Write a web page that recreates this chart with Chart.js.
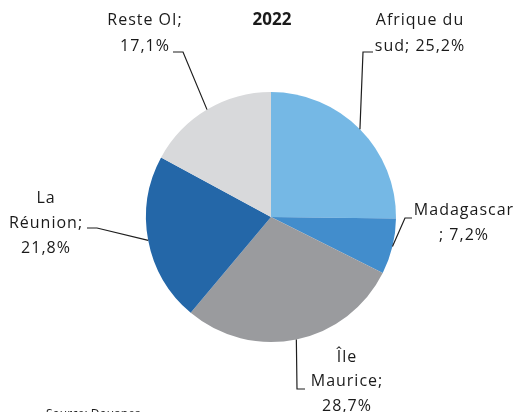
<!DOCTYPE html>
<html>
<head>
<meta charset="utf-8">
<script src="https://cdn.jsdelivr.net/npm/chart.js@4/dist/chart.umd.min.js"></script>
<style>
  html, body { margin: 0; padding: 0; background: #fff; }
  #wrap { width: 519px; height: 412px; position: relative; }
</style>
</head>
<body>
<div id="wrap"><canvas id="c" width="519" height="412"></canvas></div>
<script>
// Répartition des échanges par partenaire, 2022 (%)
const title = '2022';
const categories = ['Afrique du sud', 'Madagascar', 'Île Maurice', 'La Réunion', 'Reste OI'];
const shares = [25.2, 7.2, 28.7, 21.8, 17.1];
const colors = ['#75b8e5', '#428dcc', '#9a9b9e', '#2467a8', '#d8d9db'];
const source = 'Source: Douanes';

// Label placement: character indices where each label text wraps,
// text centre, leader elbow and end point.
const labelLayout = [
  { breaks: [10],    x: 420, y: [20, 46],       elbow: [363, 52], end: [373, 52] },
  { breaks: [10],    x: 464, y: [210, 235],     elbow: [405, 218], end: [412, 218] },
  { breaks: [3, 12], x: 347, y: [357, 381, 406], elbow: [297, 389], end: [305, 389] },
  { breaks: [2, 11], x: 46,  y: [198, 223, 248], elbow: [97, 228], end: [87, 228] },
  { breaks: [9],     x: 145, y: [20, 46],       elbow: [183, 52], end: [173, 52] }
];

function fmt(v) { return v.toFixed(1).replace('.', ',') + '%'; }

function wrap(text, breaks) {
  const out = [];
  let start = 0;
  breaks.forEach(b => { out.push(text.slice(start, b).trim()); start = b; });
  out.push(text.slice(start).trim());
  return out;
}

const labelsPlugin = {
  id: 'pieLabels',
  afterDraw(chart) {
    const ctx = chart.ctx;
    const arcs = chart.getDatasetMeta(0).data;
    ctx.save();
    // leader lines from each slice's mid-angle on the rim
    ctx.strokeStyle = '#1e1e1e';
    ctx.lineWidth = 1.2;
    arcs.forEach((arc, i) => {
      const L = labelLayout[i];
      const mid = (arc.startAngle + arc.endAngle) / 2;
      const px = arc.x + Math.cos(mid) * arc.outerRadius;
      const py = arc.y + Math.sin(mid) * arc.outerRadius;
      ctx.beginPath();
      ctx.moveTo(px, py);
      ctx.lineTo(L.elbow[0], L.elbow[1]);
      ctx.lineTo(L.end[0], L.end[1]);
      ctx.stroke();
    });
    // slice labels
    ctx.fillStyle = '#1a1a1a';
    ctx.font = '16px "Open Sans"';
    ctx.letterSpacing = '1px';
    ctx.textAlign = 'center';
    ctx.textBaseline = 'middle';
    categories.forEach((name, i) => {
      const L = labelLayout[i];
      const lines = wrap(name + '; ' + fmt(shares[i]), L.breaks);
      lines.forEach((t, k) => ctx.fillText(t, L.x, L.y[k]));
    });
    // title
    ctx.letterSpacing = '0px';
    ctx.font = 'bold 17px "Open Sans"';
    ctx.fillText(title, 272, 20);
    // source note
    ctx.font = '12px "Open Sans"';
    ctx.textAlign = 'left';
    ctx.textBaseline = 'alphabetic';
    ctx.fillText(source, 46, 418);
    ctx.restore();
  }
};

new Chart(document.getElementById('c'), {
  type: 'pie',
  data: {
    labels: categories,
    datasets: [{
      data: shares,
      backgroundColor: colors,
      borderWidth: 0
    }]
  },
  options: {
    responsive: false,
    animation: false,
    events: [],
    layout: { padding: { left: 146, right: 123, top: 92, bottom: 70 } },
    plugins: {
      legend: { display: false },
      tooltip: { enabled: false },
      title: { display: false }
    }
  },
  plugins: [labelsPlugin]
});
</script>
</body>
</html>
